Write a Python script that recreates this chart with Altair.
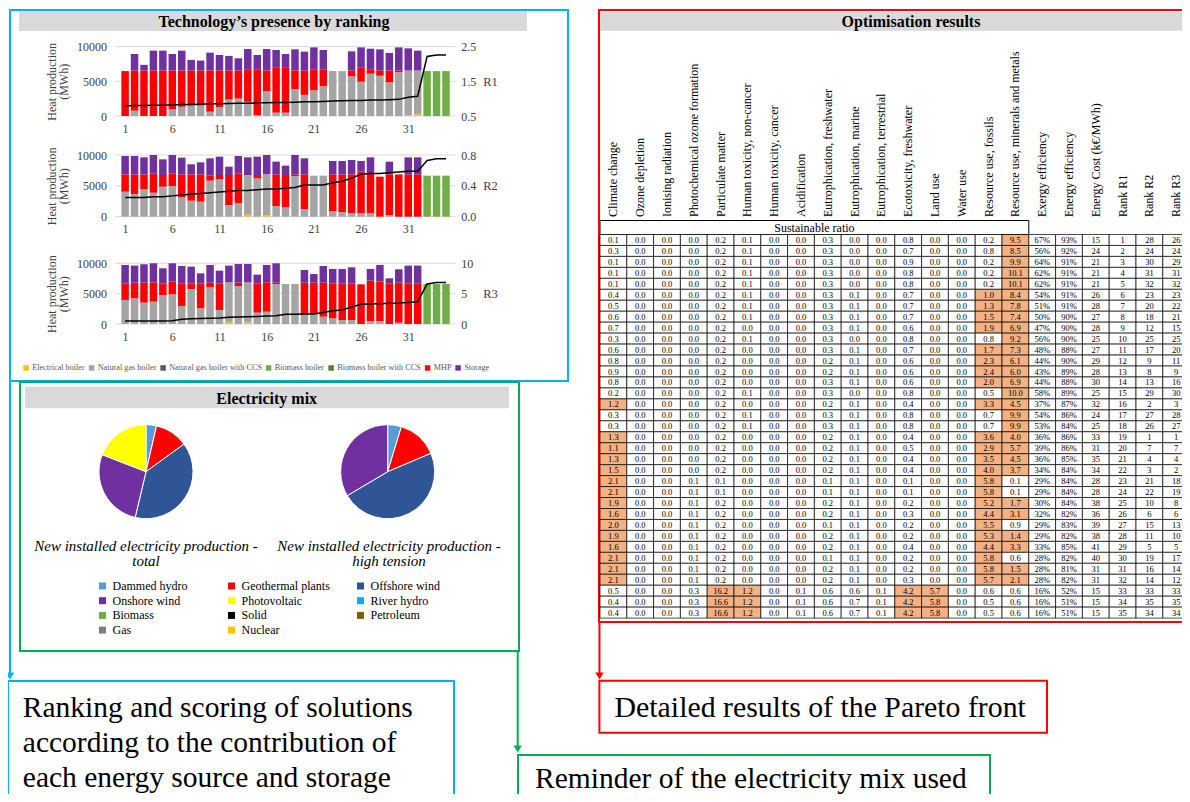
import altair as alt
import pandas as pd

SERIF = "Liberation Serif"
W, H = 1174, 786

# ---------------- heat production by ranking ----------------
ranks = list(range(1, 36))
x_tick_values = [1, 6, 11, 16, 21, 26, 31]
heat_ticks = [0, 5000, 10000]

techs = ["Electrical boiler", "Natural gas boiler", "Natural gas boiler with CCS",
         "Biomass boiler", "Biomass boiler with CCS", "MHP", "Storage"]
tech_colors = ["#FFC000", "#A5A5A5", "#595959", "#70AD47", "#548235", "#FF0000", "#7030A0"]

r1_elec = [0, 0, 0, 0, 0, 0, 0, 0, 0, 0, 0, 0, 0, 0, 0, 0, 0, 0, 0, 0,
           0, 0, 0, 0, 0, 0, 0, 0, 0, 0, 100, 250, 0, 0, 0]
r1_gas = [0, 760, 0, 0, 0, 950, 1330, 1500, 1500, 620, 1300, 2380, 2520, 2050, 140, 3570, 480, 480, 3900, 3050,
          3710, 4290, 6480, 6480, 5710, 4950, 6100, 5810, 4860, 6330, 6470, 6320, 0, 0, 0]
r1_mhp = [6480, 5810, 6570, 6570, 6570, 5620, 5240, 5070, 5070, 5950, 5270, 4190, 4050, 4620, 6530, 3000, 6470, 6570, 2670, 3520,
          2960, 2380, 0, 0, 860, 2000, 570, 760, 1710, 240, 0, 0, 0, 0, 0]
r1_sto = [0, 2380, 810, 2860, 2860, 2380, 2860, 1530, 1430, 2570, 2230, 2100, 1760, 3000, 2130, 3100, 2570, 1900, 3050, 2720,
          3230, 2850, 0, 0, 2760, 2950, 3040, 3050, 2530, 3330, 3190, 2860, 0, 0, 0]
r1_bio = [0, 0, 0, 0, 0, 0, 0, 0, 0, 0, 0, 0, 0, 0, 0, 0, 0, 0, 0, 0,
          0, 0, 0, 0, 0, 0, 0, 0, 0, 0, 0, 0, 6480, 6480, 6480]
r1_score = [0.79, 0.80, 0.80, 0.81, 0.81, 0.82, 0.83, 0.83, 0.84, 0.85, 0.85, 0.86, 0.87, 0.87, 0.88, 0.88, 0.89, 0.89,
            0.90, 0.91, 0.91, 0.92, 0.93, 0.94, 0.95, 0.95, 0.96, 0.96, 0.97, 0.98, 1.04, 1.07, 2.22, 2.26, 2.26]

r2_elec = [0, 0, 0, 0, 0, 0, 0, 0, 0, 0, 0, 0, 0, 300, 0, 250, 0, 0, 0, 0,
           0, 0, 0, 0, 0, 0, 0, 0, 0, 0, 0, 0, 0, 0, 0]
r2_gas = [4050, 3680, 4430, 3890, 4860, 4970, 3140, 2590, 2430, 5840, 6050, 1890, 2160, 6460, 6220, 6670, 1730, 1510, 6590, 1240,
          6650, 6650, 920, 760, 590, 540, 540, 0, 270, 0, 0, 0, 0, 0, 0]
r2_mhp = [2810, 3180, 2430, 3140, 1900, 2060, 3720, 4270, 4430, 810, 710, 4870, 4870, 0, 370, 0, 5130, 5250, 270, 5620,
          0, 0, 5940, 6100, 6270, 6760, 6490, 6490, 6590, 6860, 6860, 6860, 0, 0, 0]
r2_sto = [2980, 2980, 2760, 2970, 2540, 2970, 2710, 1630, 1950, 2810, 2970, 1350, 2810, 2860, 3140, 3080, 2060, 1510, 3140, 2600,
          0, 0, 2170, 2170, 2330, 1730, 2590, 0, 2060, 0, 2760, 2760, 0, 0, 0]
r2_bio = [0, 0, 0, 0, 0, 0, 0, 0, 0, 0, 0, 0, 0, 0, 0, 0, 0, 0, 0, 0,
          0, 0, 0, 0, 0, 0, 0, 0, 0, 0, 0, 0, 6650, 6650, 6650]
r2_score = [0.25, 0.25, 0.25, 0.26, 0.26, 0.27, 0.28, 0.29, 0.30, 0.31, 0.32, 0.33, 0.34, 0.34, 0.35, 0.36, 0.36, 0.37,
            0.38, 0.41, 0.41, 0.41, 0.44, 0.46, 0.50, 0.55, 0.56, 0.56, 0.57, 0.58, 0.59, 0.59, 0.73, 0.75, 0.75]

r3_elec = [0, 0, 0, 0, 0, 0, 0, 0, 0, 0, 0, 300, 0, 250, 0, 0, 0, 0, 0, 0,
           0, 0, 0, 0, 0, 0, 0, 0, 0, 0, 0, 0, 0, 0, 0]
r3_gas = [3960, 4230, 3520, 3680, 4780, 4890, 2970, 5770, 2580, 6040, 2310, 6570, 6260, 6620, 1870, 2030, 6590, 6590, 6590, 1700,
          1700, 1210, 930, 660, 660, 0, 490, 490, 0, 220, 0, 0, 0, 0, 0]
r3_mhp = [2740, 2580, 3290, 3190, 1920, 2090, 3730, 930, 4120, 770, 4390, 0, 550, 0, 4830, 4840, 220, 0, 0, 5110,
          5110, 5600, 5770, 6040, 6040, 6540, 6650, 6490, 6700, 6590, 6700, 6700, 0, 0, 0]
r3_sto = [3030, 2810, 3030, 3130, 2480, 3020, 2860, 2750, 1650, 2920, 2090, 2750, 3080, 3020, 1430, 2860, 3190, 0, 0, 2090,
          1430, 2750, 2370, 2370, 2640, 0, 1930, 2750, 830, 2200, 2920, 2920, 0, 0, 0]
r3_bio = [0, 0, 0, 0, 0, 0, 0, 0, 0, 0, 0, 0, 0, 0, 0, 0, 0, 0, 0, 0,
          0, 0, 0, 0, 0, 0, 0, 0, 0, 0, 0, 0, 6590, 6590, 6590]
r3_score = [0.5, 0.5, 0.5, 0.5, 0.5, 0.55, 0.8, 0.85, 0.9, 0.95, 1.0, 1.1, 1.15, 1.2, 1.25, 1.3, 1.35, 1.6,
            1.6, 1.65, 1.65, 1.9, 2.2, 2.3, 2.8, 3.25, 3.3, 3.35, 3.4, 3.45, 3.55, 3.65, 6.6, 6.85, 6.85]

# ---------------- electricity mix ----------------
mix_cats = ["Dammed hydro", "Geothermal plants", "Offshore wind", "Onshore wind", "Photovoltaic",
            "River hydro", "Biomass", "Solid", "Petroleum", "Gas", "Nuclear"]
mix_colors = ["#5B9BD5", "#FF0000", "#2F5597", "#7030A0", "#FFFF00",
              "#00B0F0", "#70AD47", "#000000", "#7F6000", "#7F7F7F", "#FFC000"]
mix_total = [3.6, 11.4, 38.7, 27.2, 19.1]
mix_high = [4.7, 13.9, 47.9, 33.5]

# ---------------- optimisation results table ----------------
col_names = ["Climate change", "Ozone depletion", "Ionising radiation", "Photochemical ozone formation",
             "Particulate matter", "Human toxicity, non-cancer", "Human toxicity, cancer", "Acidification",
             "Eutrophication, freshwater", "Eutrophication, marine", "Eutrophication, terrestrial",
             "Ecotoxicity, freshwater", "Land use", "Water use", "Resource use, fossils",
             "Resource use, minerals and metals", "Exergy efficiency", "Energy efficiency",
             "Energy Cost (k€/MWh)", "Rank R1", "Rank R2", "Rank R3"]
cc = [0.1, 0.3, 0.1, 0.1, 0.1, 0.4, 0.5, 0.6, 0.7, 0.3, 0.6, 0.8, 0.9, 0.8, 0.2, 1.2, 0.3, 0.3, 1.3, 1.1,
      1.3, 1.5, 2.1, 2.1, 1.9, 1.6, 2.0, 1.9, 1.6, 2.1, 2.1, 2.1, 0.5, 0.4, 0.4]
od = [0.0, 0.0, 0.0, 0.0, 0.0, 0.0, 0.0, 0.0, 0.0, 0.0, 0.0, 0.0, 0.0, 0.0, 0.0, 0.0, 0.0, 0.0, 0.0, 0.0,
      0.0, 0.0, 0.0, 0.0, 0.0, 0.0, 0.0, 0.0, 0.0, 0.0, 0.0, 0.0, 0.0, 0.0, 0.0]
ir = [0.0, 0.0, 0.0, 0.0, 0.0, 0.0, 0.0, 0.0, 0.0, 0.0, 0.0, 0.0, 0.0, 0.0, 0.0, 0.0, 0.0, 0.0, 0.0, 0.0,
      0.0, 0.0, 0.0, 0.0, 0.0, 0.0, 0.0, 0.0, 0.0, 0.0, 0.0, 0.0, 0.0, 0.0, 0.0]
pof = [0.0, 0.0, 0.0, 0.0, 0.0, 0.0, 0.0, 0.0, 0.0, 0.0, 0.0, 0.0, 0.0, 0.0, 0.0, 0.0, 0.0, 0.0, 0.0, 0.0,
       0.0, 0.0, 0.1, 0.1, 0.1, 0.1, 0.1, 0.1, 0.1, 0.1, 0.1, 0.1, 0.3, 0.3, 0.3]
pm = [0.2, 0.2, 0.2, 0.2, 0.2, 0.2, 0.2, 0.2, 0.2, 0.2, 0.2, 0.2, 0.2, 0.2, 0.2, 0.2, 0.2, 0.2, 0.2, 0.2,
      0.2, 0.2, 0.1, 0.1, 0.2, 0.2, 0.2, 0.2, 0.2, 0.2, 0.2, 0.2, 16.2, 16.6, 16.6]
htnc = [0.1, 0.1, 0.1, 0.1, 0.1, 0.1, 0.1, 0.1, 0.0, 0.1, 0.0, 0.0, 0.0, 0.0, 0.1, 0.0, 0.1, 0.1, 0.0, 0.0,
        0.0, 0.0, 0.0, 0.0, 0.0, 0.0, 0.0, 0.0, 0.0, 0.0, 0.0, 0.0, 1.2, 1.2, 1.2]
htc = [0.0, 0.0, 0.0, 0.0, 0.0, 0.0, 0.0, 0.0, 0.0, 0.0, 0.0, 0.0, 0.0, 0.0, 0.0, 0.0, 0.0, 0.0, 0.0, 0.0,
       0.0, 0.0, 0.0, 0.0, 0.0, 0.0, 0.0, 0.0, 0.0, 0.0, 0.0, 0.0, 0.0, 0.0, 0.0]
ac = [0.0, 0.0, 0.0, 0.0, 0.0, 0.0, 0.0, 0.0, 0.0, 0.0, 0.0, 0.0, 0.0, 0.0, 0.0, 0.0, 0.0, 0.0, 0.0, 0.0,
      0.0, 0.0, 0.0, 0.0, 0.0, 0.0, 0.0, 0.0, 0.0, 0.0, 0.0, 0.0, 0.1, 0.1, 0.1]
euf = [0.3, 0.3, 0.3, 0.3, 0.3, 0.3, 0.3, 0.3, 0.3, 0.3, 0.3, 0.2, 0.2, 0.3, 0.3, 0.2, 0.3, 0.3, 0.2, 0.2,
       0.2, 0.2, 0.1, 0.1, 0.2, 0.2, 0.1, 0.2, 0.2, 0.1, 0.2, 0.2, 0.6, 0.6, 0.6]
eum = [0.0, 0.0, 0.0, 0.0, 0.0, 0.1, 0.1, 0.1, 0.1, 0.0, 0.1, 0.1, 0.1, 0.1, 0.0, 0.1, 0.1, 0.1, 0.1, 0.1,
       0.1, 0.1, 0.1, 0.1, 0.1, 0.1, 0.1, 0.1, 0.1, 0.1, 0.1, 0.1, 0.6, 0.7, 0.7]
eut = [0.0, 0.0, 0.0, 0.0, 0.0, 0.0, 0.0, 0.0, 0.0, 0.0, 0.0, 0.0, 0.0, 0.0, 0.0, 0.0, 0.0, 0.0, 0.0, 0.0,
       0.0, 0.0, 0.0, 0.0, 0.0, 0.0, 0.0, 0.0, 0.0, 0.0, 0.0, 0.0, 0.1, 0.1, 0.1]
ecf = [0.8, 0.7, 0.9, 0.8, 0.8, 0.7, 0.7, 0.7, 0.6, 0.8, 0.7, 0.6, 0.6, 0.6, 0.8, 0.4, 0.8, 0.8, 0.4, 0.5,
       0.4, 0.4, 0.1, 0.1, 0.2, 0.3, 0.2, 0.2, 0.4, 0.2, 0.2, 0.3, 4.2, 4.2, 4.2]
lu = [0.0, 0.0, 0.0, 0.0, 0.0, 0.0, 0.0, 0.0, 0.0, 0.0, 0.0, 0.0, 0.0, 0.0, 0.0, 0.0, 0.0, 0.0, 0.0, 0.0,
      0.0, 0.0, 0.0, 0.0, 0.0, 0.0, 0.0, 0.0, 0.0, 0.0, 0.0, 0.0, 5.7, 5.8, 5.8]
wu = [0.0, 0.0, 0.0, 0.0, 0.0, 0.0, 0.0, 0.0, 0.0, 0.0, 0.0, 0.0, 0.0, 0.0, 0.0, 0.0, 0.0, 0.0, 0.0, 0.0,
      0.0, 0.0, 0.0, 0.0, 0.0, 0.0, 0.0, 0.0, 0.0, 0.0, 0.0, 0.0, 0.0, 0.0, 0.0]
ruf = [0.2, 0.8, 0.2, 0.2, 0.2, 1.0, 1.3, 1.5, 1.9, 0.8, 1.7, 2.3, 2.4, 2.0, 0.5, 3.3, 0.7, 0.7, 3.6, 2.9,
       3.5, 4.0, 5.8, 5.8, 5.2, 4.4, 5.5, 5.3, 4.4, 5.8, 5.8, 5.7, 0.6, 0.5, 0.5]
rum = [9.5, 8.5, 9.9, 10.1, 10.1, 8.4, 7.8, 7.4, 6.9, 9.2, 7.3, 6.1, 6.0, 6.9, 10.0, 4.5, 9.9, 9.9, 4.0, 5.7,
       4.5, 3.7, 0.1, 0.1, 1.7, 3.1, 0.9, 1.4, 3.3, 0.6, 1.5, 2.1, 0.6, 0.6, 0.6]
exergy = [67, 56, 64, 62, 62, 54, 51, 50, 47, 56, 48, 44, 43, 44, 58, 37, 54, 53, 36, 39,
          36, 34, 29, 29, 30, 32, 29, 29, 33, 28, 28, 28, 16, 16, 16]
energy = [93, 92, 91, 91, 91, 91, 91, 90, 90, 90, 88, 90, 89, 88, 89, 87, 86, 84, 86, 86,
          85, 84, 84, 84, 84, 82, 83, 82, 85, 82, 81, 82, 52, 51, 51]
cost = [15, 24, 21, 21, 21, 26, 28, 27, 28, 25, 27, 29, 28, 30, 25, 32, 24, 25, 33, 31,
        35, 34, 28, 28, 38, 36, 39, 38, 41, 40, 31, 31, 15, 15, 15]
rank_r1 = [1, 2, 3, 4, 5, 6, 7, 8, 9, 10, 11, 12, 13, 14, 15, 16, 17, 18, 19, 20,
           21, 22, 23, 24, 25, 26, 27, 28, 29, 30, 31, 32, 33, 34, 35]
rank_r2 = [28, 24, 30, 31, 32, 23, 20, 18, 12, 25, 17, 9, 8, 13, 29, 2, 27, 26, 1, 7,
           4, 3, 21, 22, 10, 6, 15, 11, 5, 19, 16, 14, 33, 35, 34]
rank_r3 = [26, 24, 29, 31, 32, 23, 22, 21, 15, 25, 20, 11, 9, 16, 30, 3, 28, 27, 1, 7,
           4, 2, 18, 19, 8, 6, 13, 10, 5, 17, 14, 12, 33, 35, 34]

# ================= build charts =================
def bar_frame(elec, gas, mhp, sto, bio):
    rows = []
    for name, vals in (("Electrical boiler", elec), ("Natural gas boiler", gas), ("Biomass boiler", bio),
                       ("MHP", mhp), ("Storage", sto)):
        for r, v in zip(ranks, vals):
            if v > 0:
                rows.append({"rank": r, "tech": name, "value": v, "ord": techs.index(name)})
    return pd.DataFrame(rows)


X0, X1 = 107.4, 447.7

bar_legend = alt.Legend(orient="none", legendX=14, legendY=355.5, direction="horizontal", columns=7,
                        title=None, symbolType="square", symbolSize=30, symbolStrokeWidth=0,
                        labelFont=SERIF, labelFontSize=8.2, labelColor="#595959", columnPadding=2.5,
                        labelOffset=2, padding=0, gridAlign="each")


def panel(df, score, y0, y1, rdomain, rticks, rfmt, rname):
    xscale = alt.Scale(domain=[0.5, 35.5], range=[X0, X1], nice=False, zero=False)
    xaxis = alt.Axis(orient="bottom", offset=y0 - H, values=x_tick_values, grid=False, ticks=False,
                     domain=False, labelPadding=7, labelFont=SERIF, labelFontSize=12,
                     labelColor="#404040", title=None)
    yscale = alt.Scale(domain=[0, 10000], range=[y0, y1], nice=False, zero=False)
    yaxis = alt.Axis(orient="left", offset=-X0, values=heat_ticks, format="d", grid=False, ticks=False,
                     domain=False, labelPadding=9, labelFont=SERIF, labelFontSize=12, labelColor="#404040",
                     title=["Heat production", "(MWh)"], titleFont=SERIF, titleFontSize=12,
                     titleFontWeight="normal", titleColor="#404040", titleAngle=270,
                     titleX=43 - X0, titleY=(y0 + y1) / 2, titleAlign="center",
                     titleBaseline="middle", titleLineHeight=12)
    grid = alt.Chart(pd.DataFrame({"value": heat_ticks})).mark_rule(color="#D9D9D9", strokeWidth=1).encode(
        y=alt.Y("value:Q", scale=yscale, axis=yaxis), x=alt.value(X0), x2=alt.value(X1))
    bars = alt.Chart(df).mark_bar(size=7.5).encode(
        x=alt.X("rank:Q", scale=xscale, axis=xaxis),
        y=alt.Y("value:Q", stack="zero", scale=yscale, axis=yaxis),
        color=alt.Color("tech:N", scale=alt.Scale(domain=techs, range=tech_colors), legend=bar_legend),
        order=alt.Order("ord:Q"))
    raxis = alt.Axis(orient="right", offset=X1 - W, values=rticks, format=rfmt, grid=False, ticks=False,
                     domain=False, labelPadding=5, labelFont=SERIF, labelFontSize=12, labelColor="#404040",
                     title=rname, titleFont=SERIF, titleFontSize=12.5, titleFontWeight="normal",
                     titleColor="#404040", titleAngle=0, titleAlign="left", titleBaseline="middle",
                     titleX=27, titleY=(y0 + y1) / 2)
    line = alt.Chart(pd.DataFrame({"rank": ranks, "score": score})).mark_line(
        color="black", strokeWidth=1.5).encode(
        x=alt.X("rank:Q", scale=xscale, axis=xaxis),
        y=alt.Y("score:Q", scale=alt.Scale(domain=rdomain, range=[y0, y1], nice=False, zero=False), axis=raxis))
    return alt.layer(alt.layer(grid, bars), line).resolve_scale(y="independent")


p1 = panel(bar_frame(r1_elec, r1_gas, r1_mhp, r1_sto, r1_bio), r1_score, 108, 38.7, [0.5, 2.5], [0.5, 1.5, 2.5], ".1f", "R1")
p2 = panel(bar_frame(r2_elec, r2_gas, r2_mhp, r2_sto, r2_bio), r2_score, 208.7, 147, [0, 0.8], [0, 0.4, 0.8], ".1f", "R2")
p3 = panel(bar_frame(r3_elec, r3_gas, r3_mhp, r3_sto, r3_bio), r3_score, 316, 255.3, [0, 10], [0, 5, 10], "d", "R3")
bars_group = alt.layer(p1, p2, p3).resolve_scale(x="independent", y="independent")

# pies
pie_legend = alt.Legend(orient="none", legendX=88.5, legendY=572, columns=3, direction="horizontal",
                        title=None, symbolType="square",
                        symbolSize=49, symbolStrokeWidth=0, labelFont=SERIF, labelFontSize=12,
                        labelColor="black", columnPadding=24, rowPadding=2.7, gridAlign="all",
                        labelOffset=4, padding=0)


def pie(values, cx, cy):
    df = pd.DataFrame({"cat": mix_cats[:len(values)], "value": values, "ord": list(range(len(values)))})
    return alt.Chart(df).mark_arc(radius=47, stroke="white", strokeWidth=1).encode(
        theta=alt.Theta("value:Q", stack=True),
        color=alt.Color("cat:N", scale=alt.Scale(domain=mix_cats, range=mix_colors), legend=pie_legend),
        order=alt.Order("ord:Q"),
        x=alt.value(cx), y=alt.value(cy))


pies_group = alt.layer(pie(mix_total, 138, 463.7), pie(mix_high, 379.7, 463.7)).resolve_scale(theta="independent")

# table
table_cols = [(cc, "lca"), (od, "lca"), (ir, "lca"), (pof, "lca"), (pm, "lca"), (htnc, "lca"), (htc, "lca"),
              (ac, "lca"), (euf, "lca"), (eum, "lca"), (eut, "lca"), (ecf, "lca"), (lu, "lca"), (wu, "lca"),
              (ruf, "lca"), (rum, "lca"), (exergy, "pct"), (energy, "pct"), (cost, "int"),
              (rank_r1, "int"), (rank_r2, "int"), (rank_r3, "int")]
rows = []
for name, (vals, kind) in zip(col_names, table_cols):
    for r, v in zip(ranks, vals):
        if kind == "lca":
            lab = f"{v:.1f}"
        elif kind == "pct":
            lab = f"{v}%"
        else:
            lab = str(v)
        rows.append({"col": name, "row": r, "label": lab, "hl": bool(kind == "lca" and v >= 1.0)})
tdf = pd.DataFrame(rows)

TX0, TCW = 592, 26.8
tx = alt.X("col:N", scale=alt.Scale(domain=col_names, range=[TX0, TX0 + 22 * TCW], paddingInner=0, paddingOuter=0), axis=None)
ty = alt.Y("row:O", scale=alt.Scale(domain=ranks, range=[226.5, 610.1], paddingInner=0, paddingOuter=0), axis=None)
cells = alt.Chart(tdf).mark_rect(stroke="black", strokeWidth=0.7).encode(
    x=tx, y=ty, fill=alt.condition("datum.hl", alt.value("#F4B183"), alt.value("white")))
cell_text = alt.Chart(tdf).mark_text(font=SERIF, fontSize=8.5, color="black").encode(x=tx, y=ty, text="label:N")
headers = alt.Chart(pd.DataFrame({"col": col_names})).mark_text(
    font=SERIF, fontSize=12, color="black", angle=270, align="left", baseline="middle").encode(
    x=tx, y=alt.value(209), text="col:N")
table_group = alt.layer(cells, cell_text, headers)


# ---------------- decorations ----------------
def one():
    return pd.DataFrame({"k": [0]})


def rect(x, x2, y, y2, fill="white", stroke="white", sw=0, fill_opacity=1):
    return alt.Chart(one()).mark_rect(fill=fill, fillOpacity=fill_opacity, stroke=stroke, strokeWidth=sw).encode(
        x=alt.value(x), x2=alt.value(x2), y=alt.value(y), y2=alt.value(y2))


def frame(x, x2, y, y2, color):
    return rect(x, x2, y, y2, fill="white", stroke=color, sw=2, fill_opacity=0)


def vline(x, y, y2, color):
    return alt.Chart(one()).mark_rule(color=color, strokeWidth=2).encode(
        x=alt.value(x), y=alt.value(y), y2=alt.value(y2))


def arrow(x, y, color):
    return alt.Chart(one()).mark_point(shape="triangle-down", filled=True, size=70, color=color,
                                       opacity=1, strokeWidth=0).encode(x=alt.value(x), y=alt.value(y))


def label(txt, x, y, size, weight="normal", style="normal", align="center", lh=None):
    return alt.Chart(pd.DataFrame({"t": [txt]})).mark_text(
        font=SERIF, fontSize=size, fontWeight=weight, fontStyle=style, align=align, baseline="middle",
        color="black", lineBreak="\n", lineHeight=lh if lh else size * 1.2).encode(
        text="t:N", x=alt.value(x), y=alt.value(y))


CYAN, GREEN, RED = "#00B0F0", "#00B050", "#FF0000"
decor = [
    rect(11, 519, 3, 23, fill="#D9D9D9"),
    label("Technology’s presence by ranking", 266, 13.5, 16, weight="bold"),
    rect(17, 501, 378.7, 400.3, fill="#D9D9D9"),
    label("Electricity mix", 258.7, 390.5, 16, weight="bold"),
    rect(592, 1185, 3.7, 22.7, fill="#D9D9D9"),
    label("Optimisation results", 903, 13.5, 16, weight="bold"),
    rect(592, 1020.8, 212.5, 226.5, fill="white", stroke="black", sw=1),
    label("Sustainable ratio", 806.4, 219.5, 12),
    label("New installed electricity production -\ntotal", 138, 538, 15, style="italic", lh=15),
    label("New installed electricity production -\nhigh tension", 381, 538, 15, style="italic", lh=15),
    frame(2, 560, 2, 373, CYAN),
    vline(2, 373, 666, CYAN),
    arrow(2, 668, CYAN),
    frame(0, 446, 673, 800, CYAN),
    label("Ranking and scoring of solutions\naccording to the contribution of\neach energy source and storage",
          14.8, 699.5, 29.5, align="left", lh=35.3),
    frame(12, 511, 374, 643, GREEN),
    vline(509.7, 643, 739, GREEN),
    arrow(509.7, 741, GREEN),
    frame(510, 982, 747, 800, GREEN),
    label("Reminder of the electricity mix used", 527, 771, 29.5, align="left"),
    frame(591, 1185, 2, 614, RED),
    vline(591.5, 614, 666, RED),
    arrow(591.5, 668, RED),
    frame(591.4, 1039, 672.7, 724.7, RED),
    label("Detailed results of the Pareto front", 606.6, 700, 29.8, align="left"),
]

chart = alt.layer(*decor, bars_group, pies_group, table_group).resolve_scale(
    x="independent", y="independent", color="independent", theta="independent"
).properties(
    width=W, height=H, autosize=alt.AutoSizeParams(type="none"), padding=0, background="white"
).configure_view(stroke="transparent")

chart.save("out.html", embed_options={"renderer": "svg", "actions": False})
